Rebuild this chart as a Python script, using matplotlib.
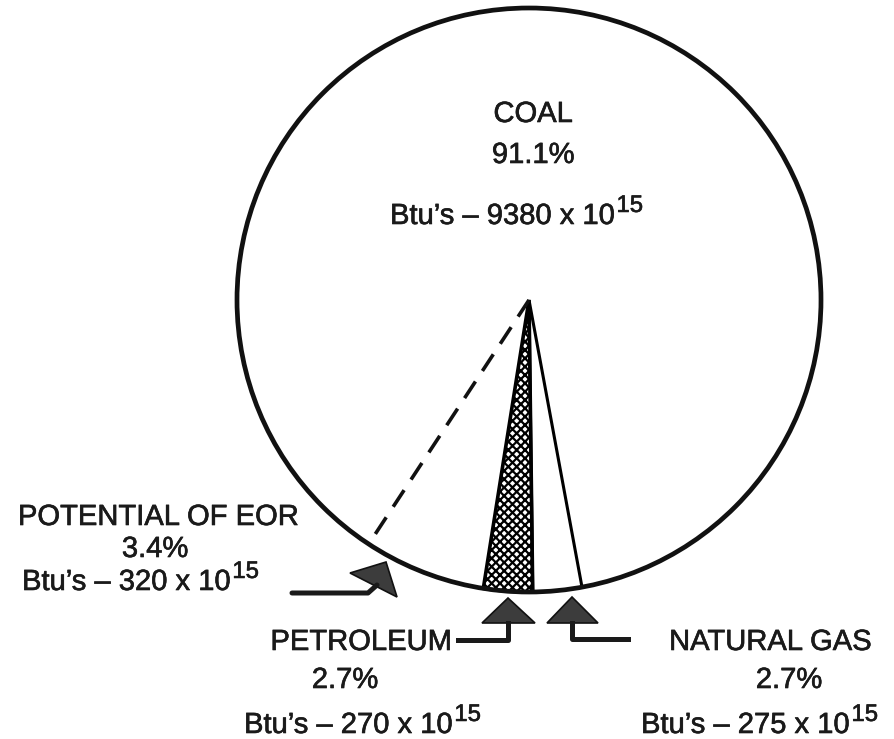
import numpy as np
import matplotlib.pyplot as plt
import matplotlib.patheffects as pe
from matplotlib.patches import Circle, Polygon

plt.rcParams['font.family'] = ['Liberation Sans', 'DejaVu Sans']
plt.rcParams['hatch.linewidth'] = 1.6

# Datos (porcentaje y Btu x 10^15)
fuentes = ["PETROLEUM", "NATURAL GAS", "COAL", "POTENTIAL OF EOR"]
porcentajes = [2.7, 2.7, 91.1, 3.4]
btus = [270, 275, 9380, 320]

W, H = 894, 739
fig = plt.figure(figsize=(W / 100, H / 100), dpi=100)
ax = fig.add_axes([0, 0, 1, 1])

def iy(y):
    # coordenadas de imagen (y hacia abajo) -> ejes
    return H - y

cx, cy, r = 529, iy(300), 292

wedges, _ = ax.pie(porcentajes, center=(cx, cy), radius=r, startangle=261,
                   counterclock=True, wedgeprops=dict(linewidth=2.0, edgecolor='black'))
wedges[0].set(facecolor='white', hatch='xxxx', linewidth=2.6, zorder=3)
wedges[1].set(facecolor='none', linewidth=2.2, zorder=3)
wedges[2].set(facecolor='none', linewidth=0)
wedges[3].set(facecolor='none', linewidth=0)

ax.add_patch(Circle((cx, cy), r, fill=False, edgecolor='#111111', lw=3.4, zorder=5))

# linea punteada del EOR
ang = np.deg2rad(236.7)
ax.plot([cx, cx + r * np.cos(ang)], [cy, cy + r * np.sin(ang)], color='#111111',
        lw=2.6, dashes=(5.5, 3.5), zorder=4)

# flechas
tri_kw = dict(closed=True, facecolor='#3c3c3c', edgecolor='#111111', lw=1.2, zorder=6)
ax.add_patch(Polygon([(350, iy(573)), (386, iy(562)), (397, iy(597))], **tri_kw))
ax.plot([292, 368, 377], [iy(593), iy(593), iy(585)], color='#1a1a1a', lw=3.6,
        solid_capstyle='round', zorder=6)
ax.add_patch(Polygon([(508, iy(598)), (482, iy(623)), (535, iy(623))], **tri_kw))
ax.plot([508, 508, 458], [iy(623), iy(640), iy(640)], color='#1a1a1a', lw=3.6, zorder=6)
ax.add_patch(Polygon([(572, iy(597)), (547, iy(623)), (598, iy(623))], **tri_kw))
ax.plot([572, 572, 628], [iy(623), iy(639), iy(639)], color='#1a1a1a', lw=3.6, zorder=6)

fs = 21
grueso = [pe.withStroke(linewidth=0.45, foreground='#1a1a1a')]
tk = dict(fontsize=fs, ha='center', va='baseline', color='#1a1a1a', path_effects=grueso)

def btu_txt(x, y, v):
    t = ax.text(x, y, "Btu\u2019s \u2013 %d x 10" % v, fontsize=fs, ha='left',
                va='baseline', color='#1a1a1a', path_effects=grueso)
    ax.annotate("15", xy=(1, 0), xycoords=t, xytext=(1.5, 13), textcoords='offset points',
                fontsize=fs * 0.82, va='baseline', ha='left', color='#1a1a1a',
                path_effects=grueso)

# etiquetas
ax.text(533, iy(122), fuentes[2], **tk)
ax.text(533, iy(163), "%.1f%%" % porcentajes[2], **tk)
btu_txt(390, iy(224), btus[2])

ax.text(158, iy(525), fuentes[3], **tk)
ax.text(155, iy(557), "%.1f%%" % porcentajes[3], **tk)
btu_txt(22, iy(590), btus[3])

ax.text(361, iy(650), fuentes[0], **tk)
ax.text(345, iy(688), "%.1f%%" % porcentajes[0], **tk)
btu_txt(244, iy(733), btus[0])

ax.text(770, iy(650), fuentes[1], **tk)
ax.text(789, iy(688), "%.1f%%" % porcentajes[1], **tk)
btu_txt(641, iy(733), btus[1])

ax.set_xlim(0, W)
ax.set_ylim(0, H)
ax.set_aspect('auto')
ax.axis('off')

fig.savefig('out.png', dpi=100, facecolor='white')
